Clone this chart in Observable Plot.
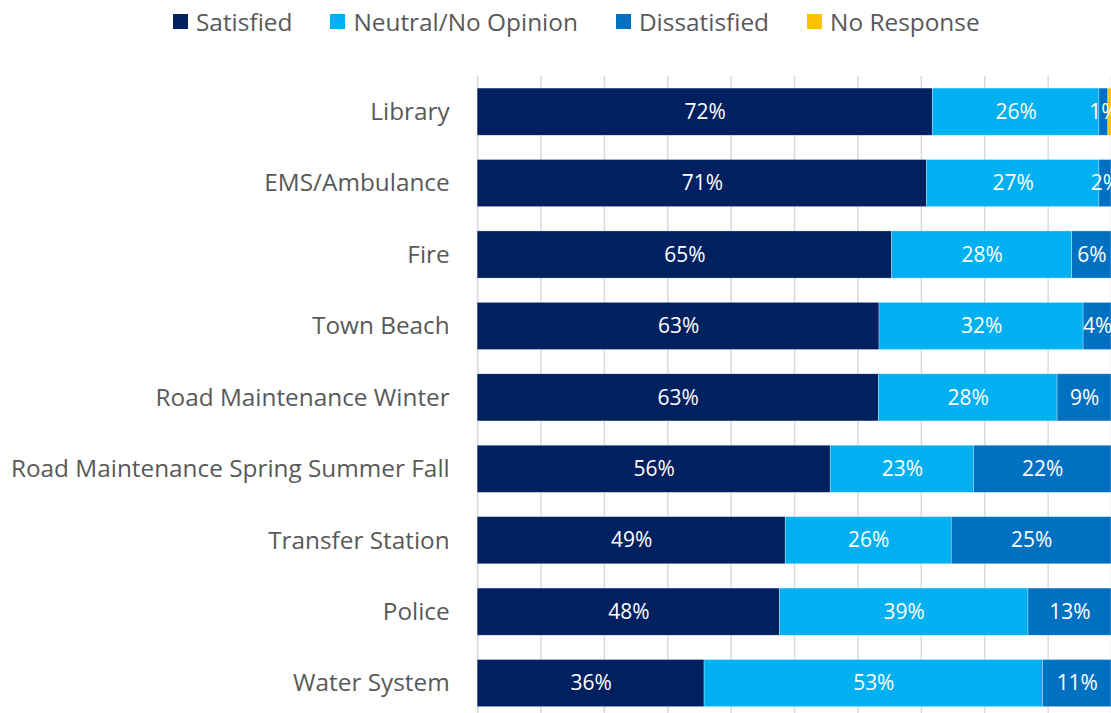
<!DOCTYPE html>
<html>
<head>
<meta charset="utf-8">
<script src="https://cdn.jsdelivr.net/npm/d3@7"></script>
<script src="https://cdn.jsdelivr.net/npm/@observablehq/plot@0.6"></script>
<style>
  html, body { margin: 0; padding: 0; background: #fff; overflow: hidden; }
  body { width: 1111px; height: 713px; font-family: "Open Sans", Lato, sans-serif; }
  #legend { height: 42px; display: flex; align-items: center; justify-content: flex-start;
            padding-left: 173px; box-sizing: border-box; color: #595959; font-size: 24.4px; white-space: nowrap; }
  .item { display: flex; align-items: center; margin-right: 38px; }
  .sw { width: 15px; height: 15px; margin-right: 8px; }
  #chart { position: absolute; top: 44px; left: 0; }
</style>
</head>
<body>
<div id="legend"></div>
<div id="chart"></div>
<script>
const categories = ["Library", "EMS/Ambulance", "Fire", "Town Beach", "Road Maintenance Winter",
  "Road Maintenance Spring Summer Fall", "Transfer Station", "Police", "Water System"];
const seriesNames = ["Satisfied", "Neutral/No Opinion", "Dissatisfied", "No Response"];
const seriesColors = ["#002060", "#00B0F0", "#0070C0", "#FFC000"];
const satisfied    = [71.8, 70.9, 65.4, 63.4, 63.3, 55.7, 48.6, 47.7, 35.8];
const neutral      = [26.3, 27.2, 28.4, 32.2, 28.2, 22.6, 26.2, 39.2, 53.4];
const dissatisfied = [1.4, 1.9, 6.2, 4.4, 8.5, 21.7, 25.2, 13.1, 10.8];
const noResponse   = [0.5, 0, 0, 0, 0, 0, 0, 0, 0];
const gridTicks = d3.range(0, 101, 10);

const seriesValues = [satisfied, neutral, dissatisfied, noResponse];
const data = [];
seriesNames.forEach((s, i) => {
  categories.forEach((c, j) => data.push({category: c, series: s, value: seriesValues[i][j]}));
});

// legend
const legend = document.getElementById("legend");
seriesNames.forEach((s, i) => {
  const it = document.createElement("div");
  it.className = "item";
  const sw = document.createElement("div");
  sw.className = "sw";
  sw.style.background = seriesColors[i];
  const t = document.createElement("span");
  t.textContent = s;
  it.appendChild(sw); it.appendChild(t);
  legend.appendChild(it);
});

const chart = Plot.plot({
  width: 1113,
  height: 676,
  marginTop: 32,
  marginBottom: 0,
  marginLeft: 478,
  marginRight: 0,
  style: {fontFamily: "'Open Sans', Lato, sans-serif", color: "#595959", background: "white"},
  x: {domain: [0, 100], axis: null},
  y: {domain: categories, paddingInner: 0.34, paddingOuter: 0.17, round: false, axis: null},
  color: {domain: seriesNames, range: seriesColors},
  marks: [
    Plot.ruleX(gridTicks, {stroke: "#d9d9d9", strokeWidth: 1.5}),
    Plot.barX(data, Plot.stackX({x: "value", y: "category", fill: "series", z: "series",
      order: seriesNames, stroke: "white", strokeWidth: 0.6, strokeOpacity: 0.5})),
    Plot.text(data, Plot.stackX({x: "value", y: "category", z: "series", order: seriesNames,
      filter: d => d.series !== "No Response",
      text: d => Math.round(d.value) + "%", fill: "white", fontSize: 21})),
    Plot.axisY({tickSize: 0, tickPadding: 28, fontSize: 24.4, label: null})
  ]
});
document.getElementById("chart").appendChild(chart);
</script>
</body>
</html>
